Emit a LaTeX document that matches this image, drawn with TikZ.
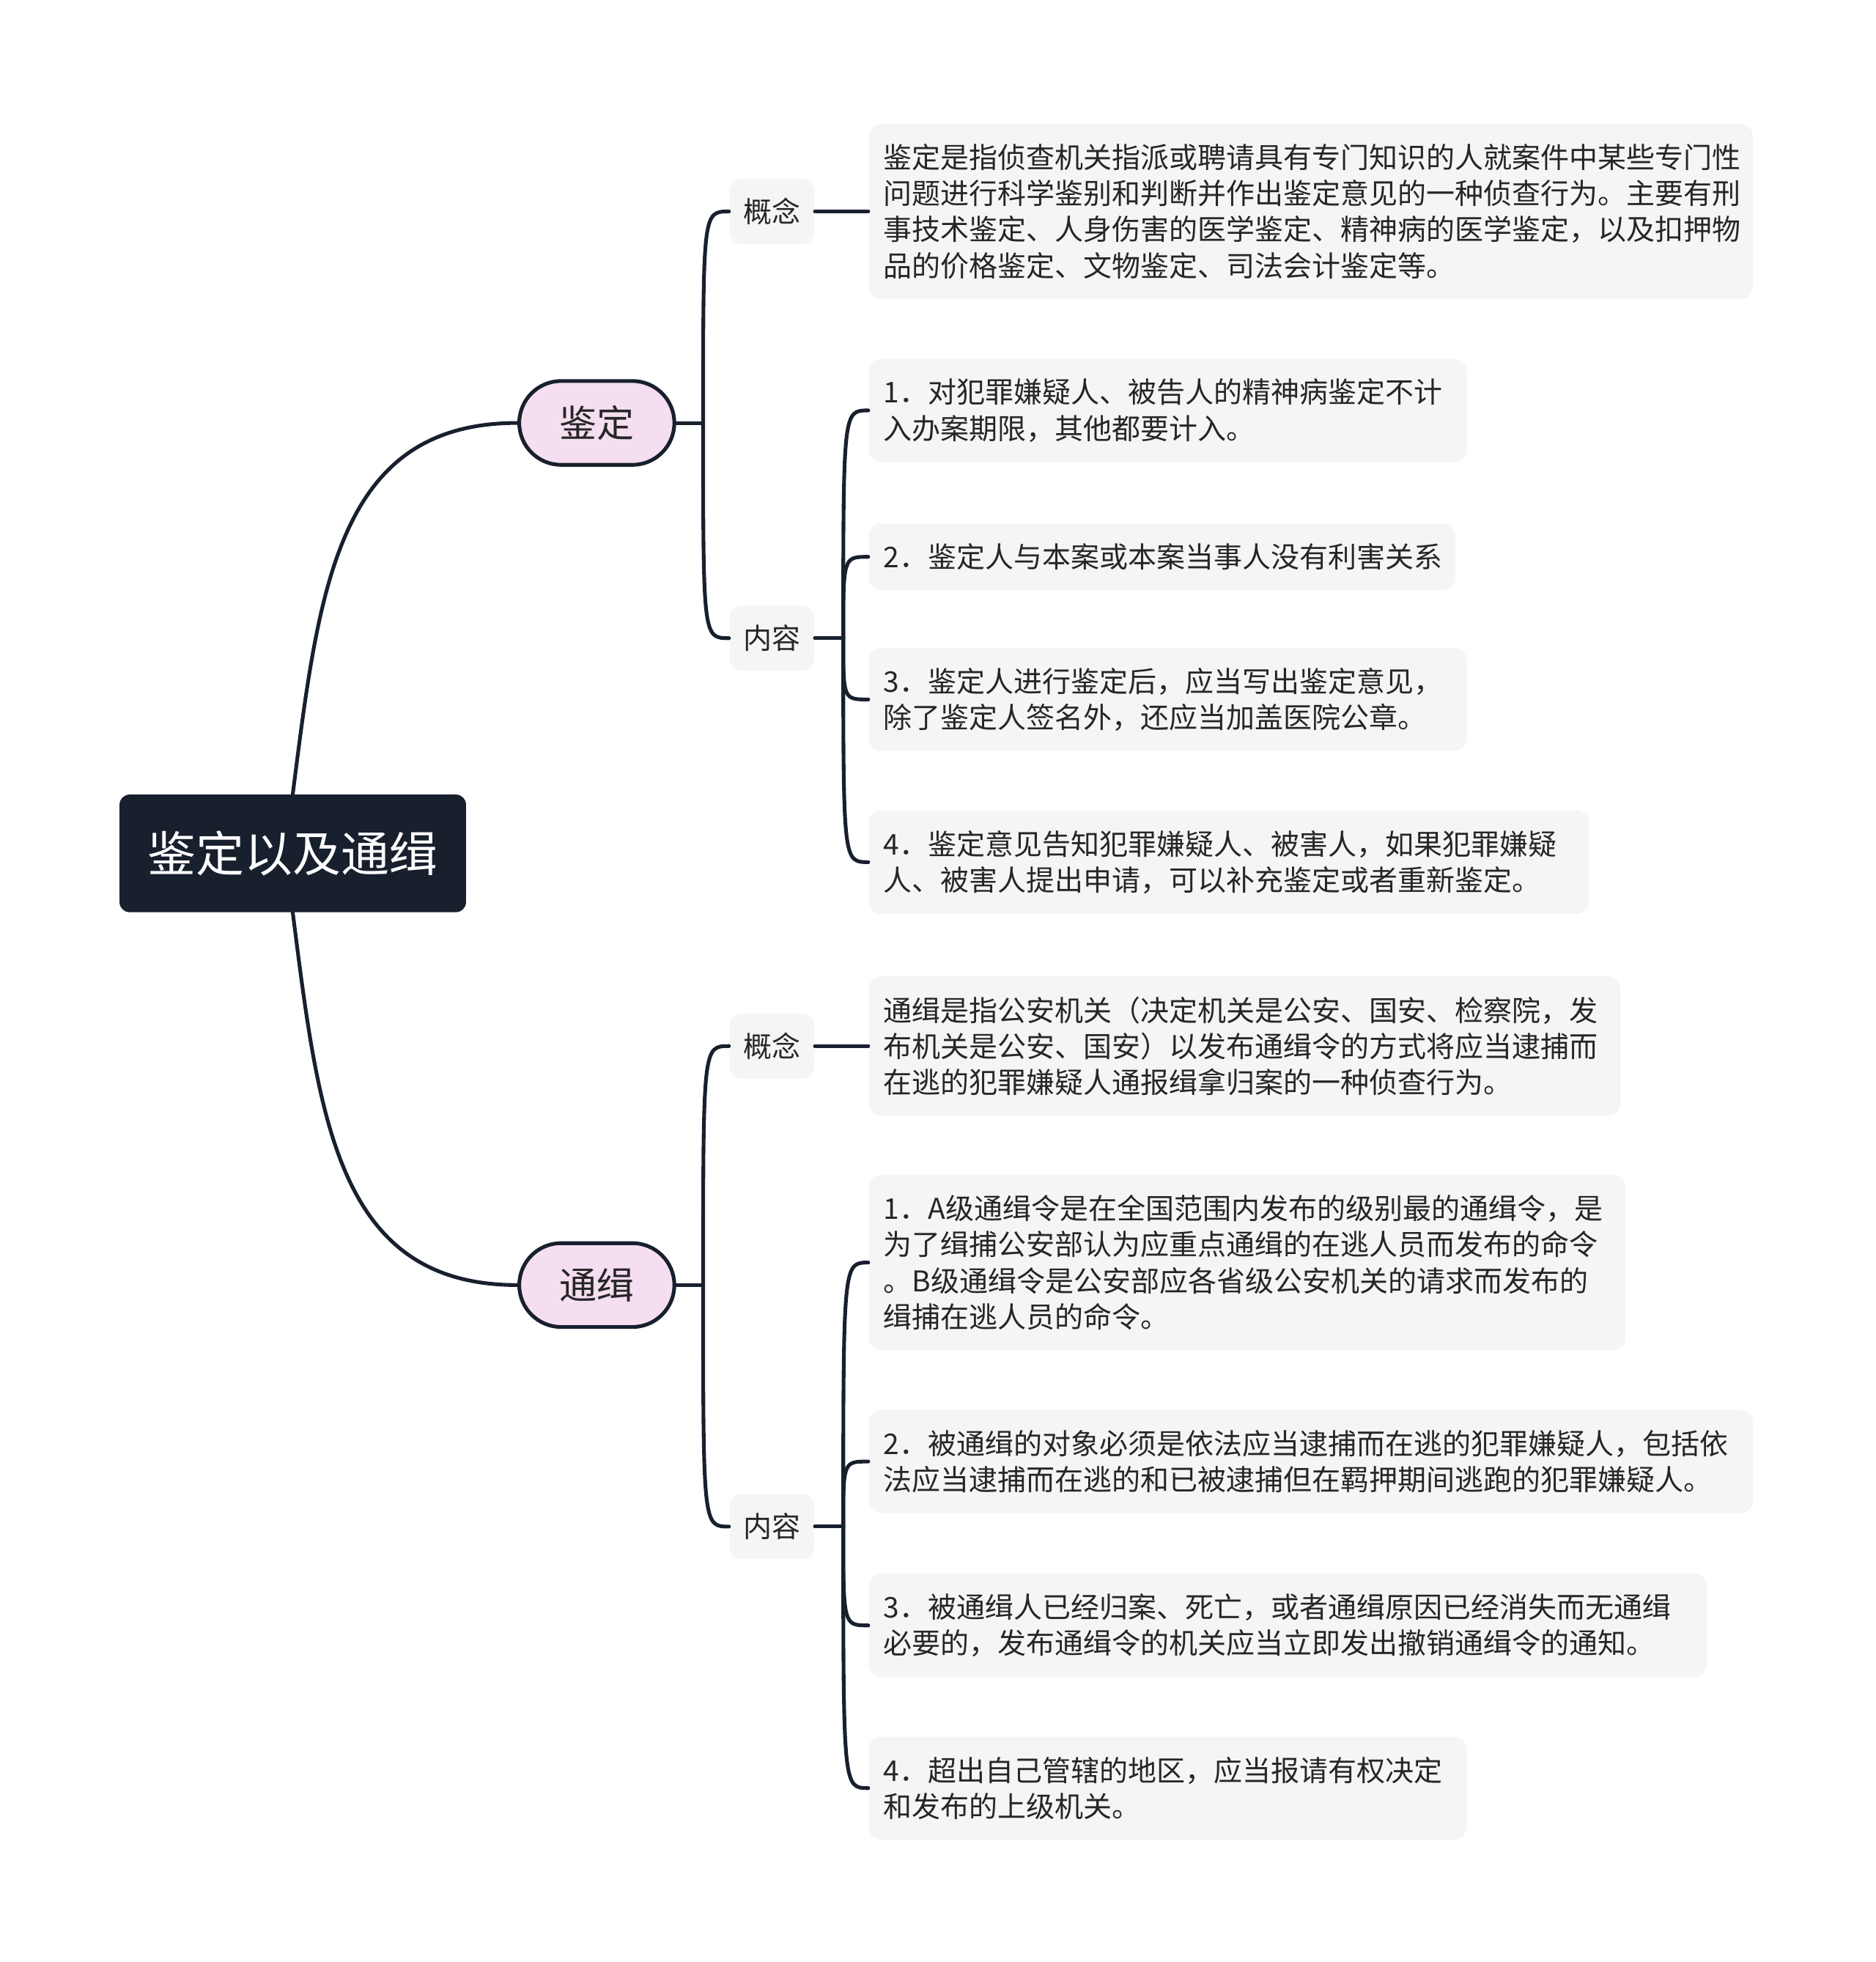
\documentclass[tikz,border=0pt]{standalone}
\usepackage{fontspec}
\setmainfont{Noto Sans CJK SC}
\usepackage{tikz}
\definecolor{mapnavy}{RGB}{24,32,46}
\definecolor{mappink}{RGB}{245,222,240}
\definecolor{mapgray}{RGB}{245,245,245}
\definecolor{maptext}{RGB}{38,38,38}
\tikzset{
  mapline/.style ={draw=mapnavy,line width=1.7pt,line cap=round},
  rootbox/.style ={fill=mapnavy,text=white,rounded corners=0.16cm,minimum width=5.54cm,minimum height=1.88cm,inner sep=0pt,font=\fontsize{22pt}{26pt}\selectfont},
  topicbox/.style={fill=mappink,draw=mapnavy,line width=1.7pt,rounded corners=0.67cm,minimum width=2.48cm,minimum height=1.34cm,inner sep=0pt,text=maptext,font=\fontsize{17pt}{20pt}\selectfont},
  subbox/.style  ={fill=mapgray,rounded corners=0.2cm,minimum width=1.36cm,minimum height=1.04cm,inner sep=0pt,text=maptext,font=\fontsize{13pt}{16pt}\selectfont},
  leafbox/.style ={fill=mapgray,rounded corners=0.2cm,anchor=west,align=left,inner xsep=0.24cm,inner ysep=0.32cm,text=maptext,font=\fontsize{13pt}{16.4pt}\selectfont},
}
% leaf: name, y, text width (cm), text
\newcommand{\leaf}[4]{\node[leafbox,text width=#3cm] (#1) at (694,#2) {#4};}
\newcommand{\twig}[2]{\draw[mapline] (#1) .. controls (#1 |- #2.west) .. (#2.west);}

\begin{document}
\begin{tikzpicture}[x=0.02cm,y=-0.02cm]
  \useasboundingbox (0,0) rectangle (1499,1568);
  \node[rootbox] (root) at (234,682) {鉴定以及通缉};
  \node[topicbox] (jd) at (477,338) {鉴定};
  \node[topicbox] (tj) at (477,1027) {通缉};
  \node[subbox] (jdgn) at (617,169) {概念};
  \node[subbox] (jdnr) at (617,510) {内容};
  \node[subbox] (tjgn) at (617,836) {概念};
  \node[subbox] (tjnr) at (617,1220) {内容};
  % 鉴定
  \leaf{jdA}{169}{13.66}{鉴定是指侦查机关指派或聘请具有专门知识的人就案件中某些专门性\\问题进行科学鉴别和判断并作出鉴定意见的一种侦查行为。主要有刑\\事技术鉴定、人身伤害的医学鉴定、精神病的医学鉴定，以及扣押物\\品的价格鉴定、文物鉴定、司法会计鉴定等。}
  \leaf{jdB}{328}{9.08}{1．对犯罪嫌疑人、被告人的精神病鉴定不计\\入办案期限，其他都要计入。}
  \leaf{jdC}{445}{8.9}{2．鉴定人与本案或本案当事人没有利害关系}
  \leaf{jdD}{559}{9.08}{3．鉴定人进行鉴定后，应当写出鉴定意见，\\除了鉴定人签名外，还应当加盖医院公章。}
  \leaf{jdE}{689}{11.04}{4．鉴定意见告知犯罪嫌疑人、被害人，如果犯罪嫌疑\\人、被害人提出申请，可以补充鉴定或者重新鉴定。}
  % 通缉
  \leaf{tjA}{836}{11.54}{通缉是指公安机关（决定机关是公安、国安、检察院，发\\布机关是公安、国安）以发布通缉令的方式将应当逮捕而\\在逃的犯罪嫌疑人通报缉拿归案的一种侦查行为。}
  \leaf{tjB}{1009}{11.62}{1．A级通缉令是在全国范围内发布的级别最的通缉令，是\\为了缉捕公安部认为应重点通缉的在逃人员而发布的命令\\。B级通缉令是公安部应各省级公安机关的请求而发布的\\缉捕在逃人员的命令。}
  \leaf{tjC}{1168}{13.66}{2．被通缉的对象必须是依法应当逮捕而在逃的犯罪嫌疑人，包括依\\法应当逮捕而在逃的和已被逮捕但在羁押期间逃跑的犯罪嫌疑人。}
  \leaf{tjD}{1299}{12.92}{3．被通缉人已经归案、死亡，或者通缉原因已经消失而无通缉\\必要的，发布通缉令的机关应当立即发出撤销通缉令的通知。}
  \leaf{tjE}{1429}{9.08}{4．超出自己管辖的地区，应当报请有权决定\\和发布的上级机关。}

  \draw[mapline] (root.north) .. controls +(21,-165) and +(-144,0) .. (jd.west);
  \draw[mapline] (root.south) .. controls +(21,165) and +(-144,0) .. (tj.west);
  \coordinate (jdj) at (562,338);
  \coordinate (tjj) at (562,1027);
  \draw[mapline] (jd.east) -- (jdj);
  \draw[mapline] (tj.east) -- (tjj);
  \twig{jdj}{jdgn}
  \twig{jdj}{jdnr}
  \twig{tjj}{tjgn}
  \twig{tjj}{tjnr}
  \draw[mapline] (jdgn.east) -- (jdA.west);
  \draw[mapline] (tjgn.east) -- (tjA.west);
  \coordinate (jdk) at (674,510);
  \coordinate (tjk) at (674,1220);
  \draw[mapline] (jdnr.east) -- (jdk);
  \draw[mapline] (tjnr.east) -- (tjk);
  \foreach \n in {B,C,D,E} {
    \twig{jdk}{jd\n}
    \twig{tjk}{tj\n}
  }
\end{tikzpicture}
\end{document}
